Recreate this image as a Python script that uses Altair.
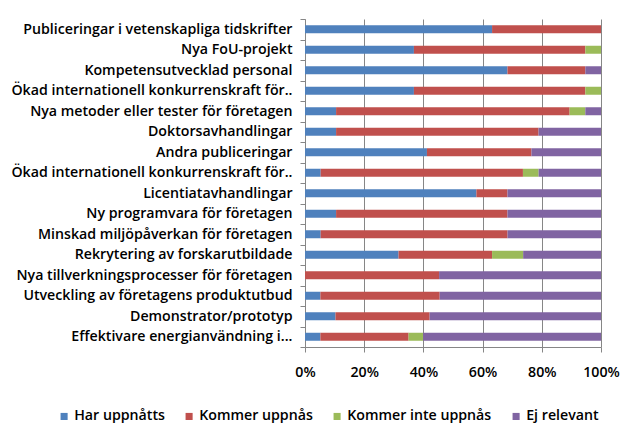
import json
import altair as alt
import pandas as pd

categories = [
    "Publiceringar i vetenskapliga tidskrifter",
    "Nya FoU-projekt",
    "Kompetensutvecklad personal",
    "Ökad internationell konkurrenskraft för..",
    "Nya metoder eller tester för företagen",
    "Doktorsavhandlingar",
    "Andra publiceringar",
    "Ökad internationell konkurrenskraft för..",
    "Licentiatavhandlingar",
    "Ny programvara för företagen",
    "Minskad miljöpåverkan för företagen",
    "Rekrytering av forskarutbildade",
    "Nya tillverkningsprocesser för företagen",
    "Utveckling av företagens produktutbud",
    "Demonstrator/prototyp",
    "Effektivare energianvändning i...",
]
series = ["Har uppnåtts", "Kommer uppnås", "Kommer inte uppnås", "Ej relevant"]
har_uppnatts = [63.2, 36.8, 68.4, 36.8, 10.5, 10.5, 41.2, 5.3, 57.9, 10.5, 5.3, 31.6, 0.0, 5.2, 10.3, 5.2]
kommer_uppnas = [36.8, 57.9, 26.3, 57.9, 78.9, 68.4, 35.3, 68.4, 10.5, 57.9, 63.2, 31.6, 45.3, 40.3, 31.8, 29.8]
kommer_inte = [0.0, 5.3, 0.0, 5.3, 5.3, 0.0, 0.0, 5.3, 0.0, 0.0, 0.0, 10.5, 0.0, 0.0, 0.0, 4.9]
ej_relevant = [0.0, 0.0, 5.3, 0.0, 5.3, 21.1, 23.5, 21.1, 31.6, 31.6, 31.6, 26.3, 54.7, 54.5, 57.9, 60.1]
colors = ["#4F81BD", "#C0504D", "#9BBB59", "#8064A2"]
x_ticks = [0, 0.2, 0.4, 0.6, 0.8, 1.0]

rows = []
for i in range(len(categories)):
    for j, vals in enumerate([har_uppnatts, kommer_uppnas, kommer_inte, ej_relevant]):
        rows.append({"idx": i, "series": series[j], "order": j, "value": vals[i]})
df = pd.DataFrame(rows)

label_expr = "%s[datum.value]" % json.dumps(categories, ensure_ascii=False)

FONT = "Open Sans"
FSIZE = 14.2
WEIGHT = 600
GRAY = "#868686"

chart = (
    alt.Chart(df)
    .mark_bar(size=8)
    .encode(
        x=alt.X(
            "value:Q",
            stack="normalize",
            scale=alt.Scale(domain=[0, 1], nice=False),
            axis=alt.Axis(
                values=x_ticks,
                format="%",
                title=None,
                grid=True,
                gridColor=GRAY,
                domainColor=GRAY,
                tickColor=GRAY,
                tickSize=5,
                labelPadding=13,
                labelFlush=False,
                labelFont=FONT,
                labelFontSize=FSIZE,
                labelFontWeight=WEIGHT,
                labelColor="#000000",
            ),
        ),
        y=alt.Y(
            "idx:O",
            scale=alt.Scale(paddingInner=0, paddingOuter=0),
            axis=alt.Axis(
                title=None,
                labelExpr=label_expr,
                tickBand="extent",
                grid=False,
                domainColor=GRAY,
                tickColor=GRAY,
                tickSize=5,
                labelPadding=8,
                labelFont=FONT,
                labelFontSize=FSIZE,
                labelFontWeight=WEIGHT,
                labelColor="#000000",
                labelLimit=400,
                minExtent=297,
                maxExtent=297,
            ),
        ),
        color=alt.Color(
            "series:N",
            scale=alt.Scale(domain=series, range=colors),
            legend=alt.Legend(
                title=None,
                orient="none",
                direction="horizontal",
                legendX=-248,
                legendY=390,
                symbolType="square",
                symbolSize=50,
                symbolStrokeWidth=0,
                labelFont=FONT,
                labelFontSize=FSIZE,
                labelFontWeight=WEIGHT,
                labelColor="#000000",
                columnPadding=17,
                labelOffset=3,
                padding=0,
            ),
        ),
        order=alt.Order("order:Q"),
    )
    .properties(
        width=296,
        height=328,
        padding={"left": 0, "top": 4, "right": 0, "bottom": 0},
    )
    .configure_view(stroke=None)
)

chart.save("out.html", embed_options={"renderer": "svg", "actions": False})
